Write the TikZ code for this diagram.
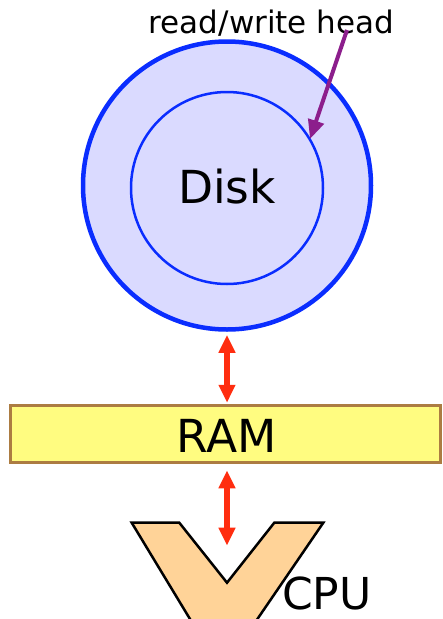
\documentclass[tikz,border=0pt]{standalone}
\usepackage{fontspec}
\setmainfont{DejaVu Sans}
\usetikzlibrary{arrows.meta}
\definecolor{diskfill}{RGB}{218,218,255}
\definecolor{diskblue}{RGB}{10,45,255}
\definecolor{ramfill}{RGB}{255,252,128}
\definecolor{ramedge}{RGB}{172,124,66}
\definecolor{cpufill}{RGB}{255,211,152}
\definecolor{redarrow}{RGB}{255,45,15}
\definecolor{headpurple}{RGB}{140,30,140}
\tikzset{
  bigtext/.style={font=\fontsize{45.5}{50}\selectfont, inner sep=0pt},
  dataarrow/.style={redarrow, line width=5.5pt, {Triangle[length=18pt,width=16pt]}-{Triangle[length=18pt,width=16pt]}},
  headarrow/.style={headpurple, line width=4pt, -{Triangle[length=19pt,width=16pt]}},
}
\begin{document}
\begin{tikzpicture}[x=1pt,y=-1pt]
\useasboundingbox (0,0) rectangle (443,619);
% disk
\node[circle, draw=diskblue, fill=diskfill, line width=4.5pt, minimum size=288pt, inner sep=0pt] (disk) at (227,185.5) {};
\node[circle, draw=diskblue, line width=2.5pt, minimum size=192pt, inner sep=0pt] (track) at (227,188) {};
\node[bigtext, anchor=base] (disklabel) at (227,203) {Disk};
% read/write head
\node[font=\fontsize{31}{34}\selectfont, inner sep=0pt, anchor=base] (headlabel) at (271.5,33) {read/write head};
\coordinate (headstart) at (347,30);
\coordinate (headtip) at (310,139);
\draw[headarrow] (headstart) -- (headtip);
% RAM
\node[draw=ramedge, fill=ramfill, line width=3.5pt, minimum width=430pt, minimum height=57pt, inner sep=0pt] (ram) at (225.5,434) {};
\node[bigtext, anchor=base] (ramlabel) at (227,452) {RAM};
% CPU
\coordinate (cpu) at (227,582.7);
\begin{scope}
\clip (0,0) rectangle (443,619);
\draw[fill=cpufill, line width=2.5pt, line join=miter]
  (131.7,522.7) -- (179.3,522.7) -- (cpu) -- (274.3,522.7) -- (323.3,522.7)
  -- (254,624) -- (193,624) -- cycle;
\end{scope}
\node[bigtext, font=\fontsize{44}{50}\selectfont, anchor=base west] (cpulabel) at (282,609) {CPU};
% connectors
\draw[dataarrow, shorten <=3pt, shorten >=1pt] (disk.south) -- (disk.south |- ram.north);
\draw[dataarrow, shorten <=6pt, shorten >=37pt] (cpu |- ram.south) -- (cpu);
\end{tikzpicture}
\end{document}
